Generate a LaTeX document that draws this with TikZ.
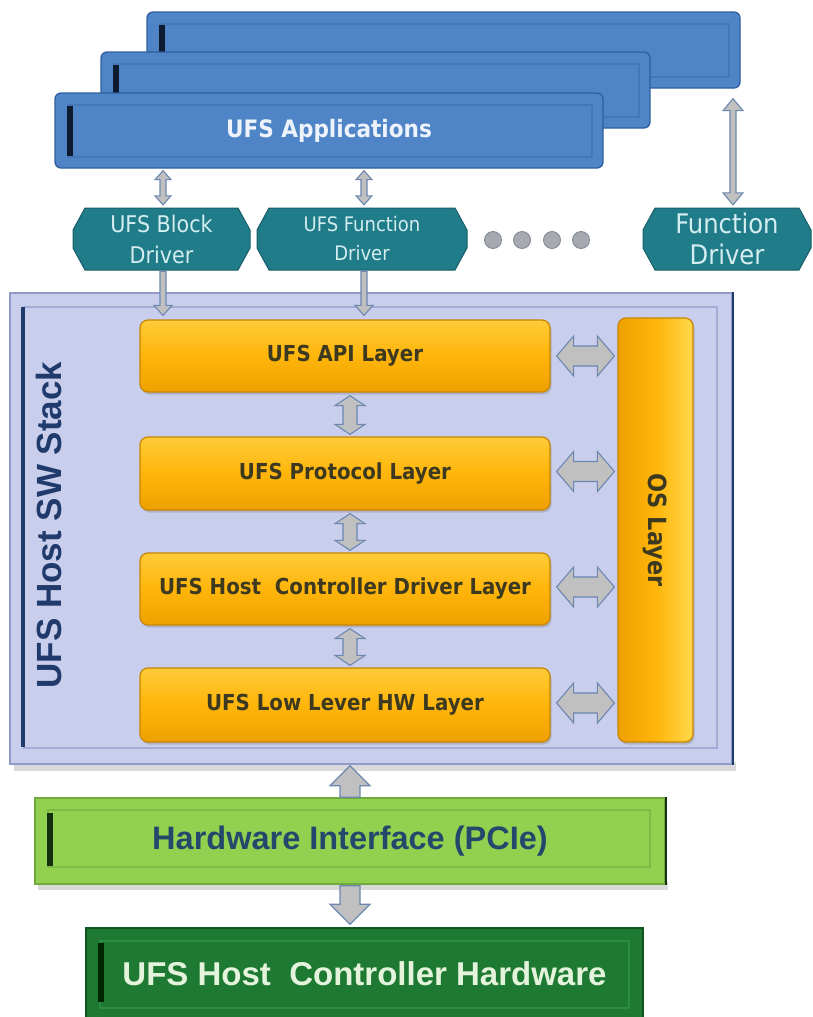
\documentclass[tikz,border=0pt]{standalone}
\usepackage{fontspec}
\setmainfont{DejaVu Sans}
\newfontfamily\cnd{DejaVu Sans Condensed}
\newfontfamily\arl{Liberation Sans}
\usetikzlibrary{calc,shadows}

\definecolor{appblue}{HTML}{4F85C7}
\definecolor{appedge}{HTML}{2F5F9F}
\definecolor{appinner}{HTML}{4476B8}
\definecolor{apptext}{HTML}{EEF3FB}
\definecolor{barstripe}{HTML}{0E1A30}
\definecolor{drvfill}{HTML}{1F7C88}
\definecolor{drvedge}{HTML}{185F6A}
\definecolor{drvtext}{HTML}{D4EDF0}
\definecolor{dotfill}{HTML}{A6AAB0}
\definecolor{dotedge}{HTML}{7D8592}
\definecolor{lav}{HTML}{C8CEEC}
\definecolor{lavedge}{HTML}{8F9AC8}
\definecolor{lavinner}{HTML}{A3ACD6}
\definecolor{navy}{HTML}{1F3A6B}
\definecolor{ambertop}{HTML}{FFCB38}
\definecolor{ambermid}{HTML}{FFB50A}
\definecolor{amberbot}{HTML}{EDA100}
\definecolor{amberedge}{HTML}{C98500}
\definecolor{amberlight}{HTML}{FFD84A}
\definecolor{layertext}{HTML}{3D3920}
\definecolor{arrfill}{HTML}{C0C0C0}
\definecolor{arredge}{HTML}{6D87B1}
\definecolor{hwgreen}{HTML}{92D050}
\definecolor{hwedge}{HTML}{6FAA3C}
\definecolor{hwinner}{HTML}{7EBB47}
\definecolor{hwtext}{HTML}{25476B}
\definecolor{hwdark}{HTML}{14300C}
\definecolor{ctrlgreen}{HTML}{1E7A32}
\definecolor{ctrledge}{HTML}{0F5520}
\definecolor{ctrlinner}{HTML}{2C8C42}
\definecolor{ctrltext}{HTML}{E4F4DC}

% block arrows drawn as outlines between two points
% vertical, heads at both ends: top point, bottom point, head half width, shaft half width, head length, style
\newcommand\vdarr[6]{%
  \draw[#6] let \p1=#1, \p2=#2 in
    (\x1,\y1) -- (\x1+#3,\y1-#5) -- (\x1+#4,\y1-#5) -- (\x1+#4,\y2+#5)
    -- (\x1+#3,\y2+#5) -- (\x1,\y2) -- (\x1-#3,\y2+#5) -- (\x1-#4,\y2+#5)
    -- (\x1-#4,\y1-#5) -- (\x1-#3,\y1-#5) -- cycle;}
% vertical, head at the bottom only
\newcommand\vdown[6]{%
  \draw[#6] let \p1=#1, \p2=#2 in
    (\x1-#4,\y1) -- (\x1+#4,\y1) -- (\x1+#4,\y2+#5) -- (\x1+#3,\y2+#5)
    -- (\x1,\y2) -- (\x1-#3,\y2+#5) -- (\x1-#4,\y2+#5) -- cycle;}
% vertical, head at the top only
\newcommand\vup[6]{%
  \draw[#6] let \p1=#1, \p2=#2 in
    (\x1,\y1) -- (\x1+#3,\y1-#5) -- (\x1+#4,\y1-#5) -- (\x1+#4,\y2)
    -- (\x1-#4,\y2) -- (\x1-#4,\y1-#5) -- (\x1-#3,\y1-#5) -- cycle;}
% horizontal, heads at both ends: left point, right point, ...
\newcommand\hdarr[6]{%
  \draw[#6] let \p1=#1, \p2=#2 in
    (\x1,\y1) -- (\x1+#5,\y1+#3) -- (\x1+#5,\y1+#4) -- (\x2-#5,\y1+#4)
    -- (\x2-#5,\y1+#3) -- (\x2,\y1) -- (\x2-#5,\y1-#3) -- (\x2-#5,\y1-#4)
    -- (\x1+#5,\y1-#4) -- (\x1+#5,\y1-#3) -- cycle;}
% chamfered driver box: name, centre x, centre y, width, label, font
\newcommand\drvbox[6]{%
  \filldraw[drvshape] ({#2-#4/2+12},{#3-31}) -- ({#2+#4/2-12},{#3-31})
    -- ({#2+#4/2},{#3-9}) -- ({#2+#4/2},{#3+9}) -- ({#2+#4/2-12},{#3+31})
    -- ({#2-#4/2+12},{#3+31}) -- ({#2-#4/2},{#3+9}) -- ({#2-#4/2},{#3-9}) -- cycle;
  \node[drvlabel, font=#6, minimum width=#4pt, minimum height=62pt] (#1) at (#2,#3) {#5};}

\begin{document}
\begin{tikzpicture}[x=1pt,y=-1pt,
  appbar/.style={rectangle, rounded corners=6pt, fill=appblue, draw=appedge,
    line width=1.3pt, inner sep=0pt,
    path picture={
      \draw[sharp corners, appinner, line width=1.2pt]
        ([shift={(13pt,11pt)}]path picture bounding box.south west) rectangle
        ([shift={(-11pt,-12pt)}]path picture bounding box.north east);
      \fill[sharp corners, barstripe]
        ([shift={(12pt,12pt)}]path picture bounding box.south west) rectangle
        ([shift={(18pt,-13pt)}]path picture bounding box.north west);
    }},
  drvshape/.style={fill=drvfill, draw=drvedge, line width=1pt},
  drvlabel/.style={text=drvtext, align=center, inner sep=0pt},
  dot/.style={circle, fill=dotfill, draw=dotedge, line width=0.8pt, minimum size=17pt, inner sep=0pt},
  stackbox/.style={rectangle, fill=lav, draw=lavedge, line width=1.5pt, inner sep=0pt,
    path picture={
      \draw[lavinner, line width=2pt]
        ([shift={(14pt,16pt)}]path picture bounding box.south west) rectangle
        ([shift={(-15pt,-14pt)}]path picture bounding box.north east);
      \fill[navy]
        ([shift={(11pt,17pt)}]path picture bounding box.south west) rectangle
        ([shift={(15pt,-14pt)}]path picture bounding box.north west);
    }},
  layer/.style={rectangle, rounded corners=8pt, top color=ambertop, bottom color=amberbot,
    middle color=ambermid, draw=amberedge, line width=1.2pt, inner sep=0pt,
    minimum width=410pt, text=layertext, font=\cnd\bfseries\fontsize{22}{26}\selectfont,
    drop shadow={opacity=.35, shadow xshift=1.5pt, shadow yshift=-2.5pt}},
  oslayer/.style={rectangle, rounded corners=8pt, left color=amberbot, right color=amberlight,
    middle color=ambermid, draw=amberedge, line width=1.2pt, inner sep=0pt,
    text=layertext, font=\cnd\bfseries\fontsize{22}{26}\selectfont,
    drop shadow={opacity=.35, shadow xshift=1.5pt, shadow yshift=-2.5pt}},
  arr/.style={fill=arrfill, draw=arredge, line width=1.1pt, line join=miter},
  hwbox/.style={rectangle, fill=hwgreen, draw=hwedge, line width=1.5pt, inner sep=0pt,
    text=hwtext, font=\arl\bfseries\fontsize{32.5}{38}\selectfont,
    path picture={
      \draw[hwinner, line width=2pt]
        ([shift={(13pt,17pt)}]path picture bounding box.south west) rectangle
        ([shift={(-15pt,-12pt)}]path picture bounding box.north east);
      \fill[hwdark]
        ([shift={(12pt,18pt)}]path picture bounding box.south west) rectangle
        ([shift={(18pt,-15pt)}]path picture bounding box.north west);
    }},
  ctrlbox/.style={rectangle, fill=ctrlgreen, draw=ctrledge, line width=1.5pt, inner sep=0pt,
    text=ctrltext, font=\arl\bfseries\fontsize{33}{38}\selectfont,
    path picture={
      \draw[ctrlinner, line width=2pt]
        ([shift={(14pt,12pt)}]path picture bounding box.south west) rectangle
        ([shift={(-14pt,-13pt)}]path picture bounding box.north east);
      \fill[black!85!green]
        ([shift={(12pt,18pt)}]path picture bounding box.south west) rectangle
        ([shift={(18pt,-15pt)}]path picture bounding box.north west);
    }},
]
\useasboundingbox[fill=white] (0,0) rectangle (812,1017);

% application windows, back to front
\node[appbar, minimum width=593pt, minimum height=76pt] (appC) at (443.5,50) {};
\node[appbar, minimum width=549pt, minimum height=76pt] (appB) at (375.5,90) {};
\node[appbar, minimum width=548pt, minimum height=75pt, text=apptext,
      font=\cnd\bfseries\fontsize{24}{28}\selectfont] (appA) at (329,130.5) {UFS Applications};

% drivers
\drvbox{blk}{161.5}{239}{177}{UFS Block\\[3pt]Driver}{\cnd\fontsize{23}{28}\selectfont}
\drvbox{fnd}{362}{239}{210}{UFS Function\\[6pt]Driver}{\cnd\fontsize{20}{23}\selectfont}
\drvbox{fdr}{727}{239}{168}{Function\\[1pt]Driver}{\cnd\fontsize{27}{30}\selectfont}
\node[dot] (d1) at (493,240) {};
\node[dot] (d2) at (522,240) {};
\node[dot] (d3) at (552,240) {};
\node[dot] (d4) at (581,240) {};

% applications to drivers
\vdarr{($(appA.south -| blk.north)+(1.5,2)$)}{($(blk.north)+(1.5,-3)$)}{8pt}{3pt}{9pt}{arr}
\vdarr{($(appA.south -| fnd.north)+(2,2)$)}{($(fnd.north)+(2,-3)$)}{8pt}{3pt}{9pt}{arr}
\vdarr{($(appC.south -| fdr.north)+(6,10)$)}{($(fdr.north)+(6,-3)$)}{10pt}{3pt}{12pt}{arr}

% host software stack
\fill[black, opacity=.15] (14,762) rectangle (736,771);
\node[stackbox, minimum width=722pt, minimum height=471pt] (stack) at (371,528.5) {};
\draw[navy, line width=2.5pt] (stack.north east) -- (stack.south east);
\node[rotate=90, text=navy, font=\arl\bfseries\fontsize{35}{40}\selectfont] (stlbl) at (49,525) {UFS Host SW Stack};

\node[layer, minimum height=72pt] (api)   at (345,356)   {UFS API Layer};
\node[layer, minimum height=73pt] (proto) at (345,473.5) {UFS Protocol Layer};
\node[layer, minimum height=72pt] (hcd)   at (345,589)   {UFS Host~ Controller Driver Layer};
\node[layer, minimum height=74pt] (low)   at (345,705)   {UFS Low Lever HW Layer};
\node[oslayer, minimum width=75pt, minimum height=424pt] (os) at (655.5,530) {};
\node[rotate=-90, text=layertext, font=\cnd\bfseries\fontsize{25}{28}\selectfont] (oslbl) at (os.center) {OS Layer};

% drivers into the stack
\vdown{($(blk.south)+(1.5,1)$)}{($(api.north -| blk.south)+(1.5,-4)$)}{9pt}{3pt}{10pt}{arr}
\vdown{($(fnd.south)+(2,1)$)}{($(api.north -| fnd.south)+(2,-4)$)}{9pt}{3pt}{10pt}{arr}

% between the layers
\vdarr{($(api.south)+(5,3)$)}{($(proto.north)+(5,-2)$)}{15pt}{7pt}{10pt}{arr}
\vdarr{($(proto.south)+(5,3)$)}{($(hcd.north)+(5,-2)$)}{15pt}{7pt}{10pt}{arr}
\vdarr{($(hcd.south)+(5,3)$)}{($(low.north)+(5,-2)$)}{15pt}{7pt}{10pt}{arr}

% layers to the OS layer
\hdarr{($(api.east)+(6,0)$)}{($(os.west |- api.east)+(-3,0)$)}{20pt}{10pt}{17pt}{arr}
\hdarr{($(proto.east)+(6,-2)$)}{($(os.west |- proto.east)+(-3,-2)$)}{20pt}{10pt}{17pt}{arr}
\hdarr{($(hcd.east)+(6,-2)$)}{($(os.west |- hcd.east)+(-3,-2)$)}{20pt}{10pt}{17pt}{arr}
\hdarr{($(low.east)+(6,-2)$)}{($(os.west |- low.east)+(-3,-2)$)}{20pt}{10pt}{17pt}{arr}

% hardware interface and controller
\fill[black, opacity=.15] (38,882) rectangle (668,890);
\node[hwbox, minimum width=630pt, minimum height=86pt] (hw) at (350,841) {Hardware Interface (PCIe)};
\draw[hwdark, line width=2.5pt] (hw.north east) -- (hw.south east);
\node[ctrlbox, minimum width=557pt, minimum height=92pt] (ctrl) at (364.5,974) {UFS Host~ Controller Hardware};

\vup{($(stack.south -| hw.north)+(0,1)$)}{(hw.north)}{20pt}{10pt}{20pt}{arr}
\vdown{($(hw.south)+(0,1)$)}{($(ctrl.north)+(0,-3)$)}{20pt}{10pt}{20pt}{arr}
\end{tikzpicture}
\end{document}
